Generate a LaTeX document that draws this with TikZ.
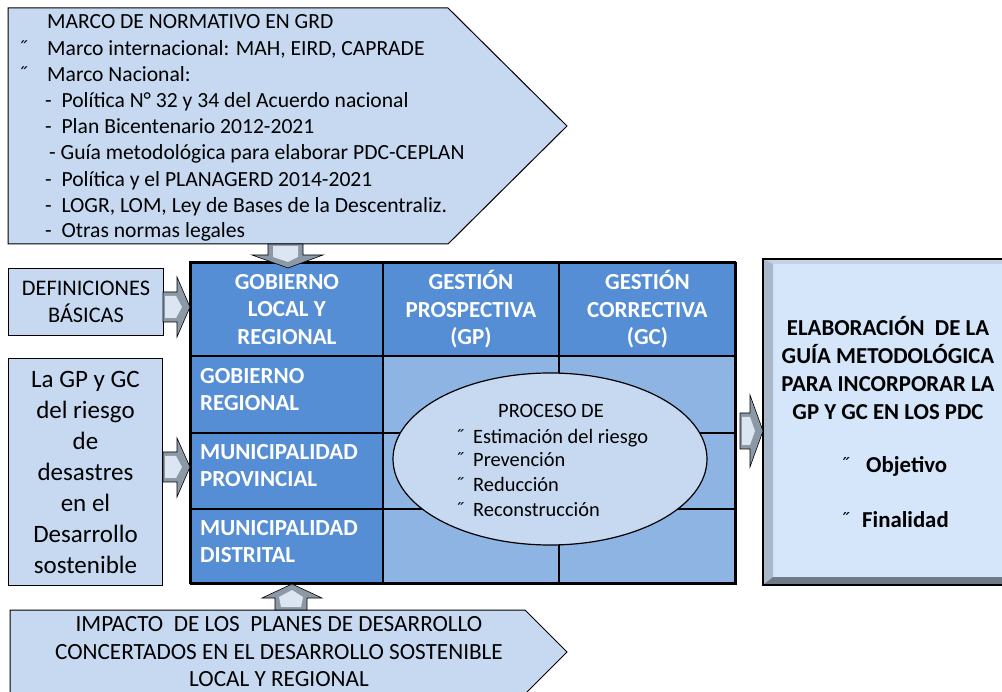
\documentclass[tikz,border=0pt]{standalone}
\usepackage{fontspec}
\setmainfont{Carlito}
\usetikzlibrary{shapes.geometric}
\definecolor{boxfill}{HTML}{C6D9F1}
\definecolor{headblue}{HTML}{558ED5}
\definecolor{cellblue}{HTML}{8EB4E3}
\definecolor{rightfill}{HTML}{D5E5FA}
\definecolor{bevelL}{HTML}{A9B8CB}
\definecolor{bevelT}{HTML}{C4D2E4}
\definecolor{bevelB}{HTML}{6F7B8A}
\definecolor{arrowdark}{HTML}{8C98A6}
\definecolor{arrowlight}{HTML}{DCE6F2}
\newcommand{\fsz}[2]{\fontsize{#1}{#2}\selectfont}
\begin{document}
\begin{tikzpicture}[x=1pt,y=-1pt,
  outline/.style={draw=black,line width=1pt},
  boxshape/.style={outline,fill=boxfill},
  cellstyle/.style={draw=black,line width=1.8pt,inner sep=0pt,anchor=north west},
  headcell/.style={cellstyle,fill=headblue,text=white,align=center,font=\bfseries\fsz{23}{27.5}},
  bodycell/.style={cellstyle,fill=cellblue},
  rowlabel/.style={inner sep=0pt,anchor=west,align=left,text=white,font=\bfseries\fsz{23}{27}},
  toptxt/.style={inner sep=0pt,anchor=base west,font=\fsz{21.6}{26}},
  elltxt/.style={inner sep=0pt,anchor=base west,font=\fsz{20.4}{24}},
  bul/.style={inner sep=0pt,anchor=base west},
  blockarrow/.style={draw=black,line width=0.6pt,fill=arrowdark},
  arrowhi/.style={fill=arrowlight,draw=none}
]
\useasboundingbox (0,0) rectangle (1002,692);

% ---- top pentagon ----
\draw[boxshape] (8,8) -- (448,8) -- (567,126) -- (448,244) -- (8,244) -- cycle;
\node[toptxt] (t0) at (47,29) {MARCO DE NORMATIVO EN GRD};
\node[toptxt] (b1) at (18,56) {˝};
\node[toptxt] (t1) at (47,56) {Marco internacional: MAH, EIRD, CAPRADE};
\node[toptxt] (b2) at (18,82) {˝};
\node[toptxt] (t2) at (47,82) {Marco Nacional:};
\node[toptxt] (t3) at (45,108) {- \ Política N° 32 y 34 del Acuerdo nacional};
\node[toptxt] (t4) at (45,134) {- \ Plan Bicentenario 2012-2021};
\node[toptxt] (t5) at (49,160) {- Guía metodológica para elaborar PDC-CEPLAN};
\node[toptxt] (t6) at (45,187) {- \ Política y el PLANAGERD 2014-2021};
\node[toptxt] (t7) at (45,213) {- \ LOGR, LOM, Ley de Bases de la Descentraliz.};
\node[toptxt] (t8) at (45,238) {- \ Otras normas legales};

% ---- left boxes ----
\node[boxshape,minimum width=155pt,minimum height=67pt,inner sep=0pt,anchor=north west,align=center,font=\fsz{22.3}{27}]
  (def) at (8,268) {DEFINICIONES\\BÁSICAS};
\node[boxshape,minimum width=154pt,minimum height=227pt,inner sep=0pt,anchor=north west,align=center,font=\fsz{25}{31}]
  (gpgc) at (8,358) {La GP y GC\\del riesgo\\de\\desastres\\en el\\Desarrollo\\sostenible};

% ---- grid ----
\node[bodycell,minimum width=176pt,minimum height=77pt] (c22) at (382,355) {};
\node[bodycell,minimum width=177pt,minimum height=77pt] (c23) at (558,355) {};
\node[bodycell,minimum width=176pt,minimum height=76pt] (c32) at (382,432) {};
\node[bodycell,minimum width=177pt,minimum height=76pt] (c33) at (558,432) {};
\node[bodycell,minimum width=176pt,minimum height=75pt] (c42) at (382,508) {};
\node[bodycell,minimum width=177pt,minimum height=75pt] (c43) at (558,508) {};
\node[headcell,minimum width=192pt,minimum height=77pt] (c21) at (190,355) {};
\node[headcell,minimum width=192pt,minimum height=76pt] (c31) at (190,432) {};
\node[headcell,minimum width=192pt,minimum height=75pt] (c41) at (190,508) {};
\node[headcell,minimum width=192pt,minimum height=93pt] (h1) at (190,262) {GOBIERNO\\LOCAL Y\\REGIONAL};
\node[headcell,minimum width=176pt,minimum height=93pt] (h2) at (382,262) {GESTIÓN\\PROSPECTIVA\\(GP)};
\node[headcell,minimum width=177pt,minimum height=93pt] (h3) at (558,262) {GESTIÓN\\CORRECTIVA\\(GC)};
\node[rowlabel] (l1) at (200,390) {GOBIERNO\\REGIONAL};
\node[rowlabel] (l2) at (200,466) {MUNICIPALIDAD\\PROVINCIAL};
\node[rowlabel] (l3) at (200,542) {MUNICIPALIDAD\\DISTRITAL};
\draw[line width=1.8pt] (190,262) rectangle (735,583);

% ---- ellipse ----
\node[ellipse,draw=black,line width=1.2pt,fill=boxfill,minimum width=314pt,minimum height=172pt,inner sep=0pt]
  (proc) at (550,459) {};
\node[inner sep=0pt,font=\fsz{20.4}{24}] (p0) at (551,411) {PROCESO DE};
\node[elltxt] (pb1) at (455,444) {˝};
\node[elltxt] (p1) at (473,444) {Estimación del riesgo};
\node[elltxt] (pb2) at (455,467) {˝};
\node[elltxt] (p2) at (473,467) {Prevención};
\node[elltxt] (pb3) at (455,492) {˝};
\node[elltxt] (p3) at (473,492) {Reducción};
\node[elltxt] (pb4) at (455,517) {˝};
\node[elltxt] (p4) at (473,517) {Reconstrucción};

% ---- right box ----
\fill[rightfill] (763,259) rectangle (1010,585);
\fill[bevelT] (763,259) -- (1010,259) -- (1010,264) -- (773,264) -- cycle;
\fill[bevelL] (763,259) -- (773,264) -- (773,577) -- (763,585) -- cycle;
\fill[bevelB] (763,585) -- (773,577) -- (1010,577) -- (1010,585) -- cycle;
\draw[line width=1.4pt] (763,259) rectangle (1010,585);
\node[inner sep=0pt,align=center,font=\bfseries\fsz{22.8}{28}] (el) at (888,368)
  {ELABORACIÓN\ \ DE LA\\GUÍA METODOLÓGICA\\PARA INCORPORAR LA\\GP Y GC EN LOS PDC};
\node[bul,font=\fsz{22}{26}] (ob0) at (840,473) {˝};
\node[inner sep=0pt,anchor=base west,font=\bfseries\fsz{22.8}{28}] (ob) at (866,473) {Objetivo};
\node[bul,font=\fsz{22}{26}] (fi0) at (840,528) {˝};
\node[inner sep=0pt,anchor=base west,font=\bfseries\fsz{22.8}{28}] (fi) at (862,528) {Finalidad};

% ---- bottom pentagon ----
\draw[boxshape] (10,610) -- (525,610) -- (567,652) -- (525,694) -- (10,694) -- cycle;
\node[inner sep=0pt,align=center,font=\fsz{23.2}{27.5}] (imp) at (279,652)
  {IMPACTO\ \ DE LOS\ \ PLANES DE DESARROLLO\\CONCERTADOS EN EL DESARROLLO SOSTENIBLE\\LOCAL Y REGIONAL};

% ---- block arrows ----
\draw[blockarrow] (268,244) -- (303,244) -- (303,255) -- (323,255) -- (288,268) -- (252,255) -- (268,255) -- cycle;
\fill[arrowhi] (273,246) -- (298,246) -- (298,257) -- (288,262) -- (273,257) -- cycle;
\draw[blockarrow] (275,610) -- (307,610) -- (307,598) -- (322,598) -- (292,584) -- (262,598) -- (275,598) -- cycle;
\fill[arrowhi] (281,607) -- (301,607) -- (303,597) -- (292,590) -- (279,597) -- cycle;
\draw[blockarrow] (163,292) -- (177,292) -- (177,277) -- (190,307) -- (177,337) -- (177,322) -- (163,322) -- cycle;
\fill[arrowhi] (165,296) -- (176,296) -- (182,307) -- (176,318) -- (165,318) -- cycle;
\draw[blockarrow] (163,452) -- (177,452) -- (177,438) -- (190,467) -- (177,497) -- (177,482) -- (163,482) -- cycle;
\fill[arrowhi] (165,456) -- (176,456) -- (182,467) -- (176,478) -- (165,478) -- cycle;
\draw[blockarrow] (740,413) -- (750,413) -- (750,395) -- (763,431) -- (750,467) -- (750,449) -- (740,449) -- cycle;
\fill[arrowhi] (742,417) -- (750,417) -- (755,431) -- (750,445) -- (742,445) -- cycle;
\end{tikzpicture}
\end{document}
